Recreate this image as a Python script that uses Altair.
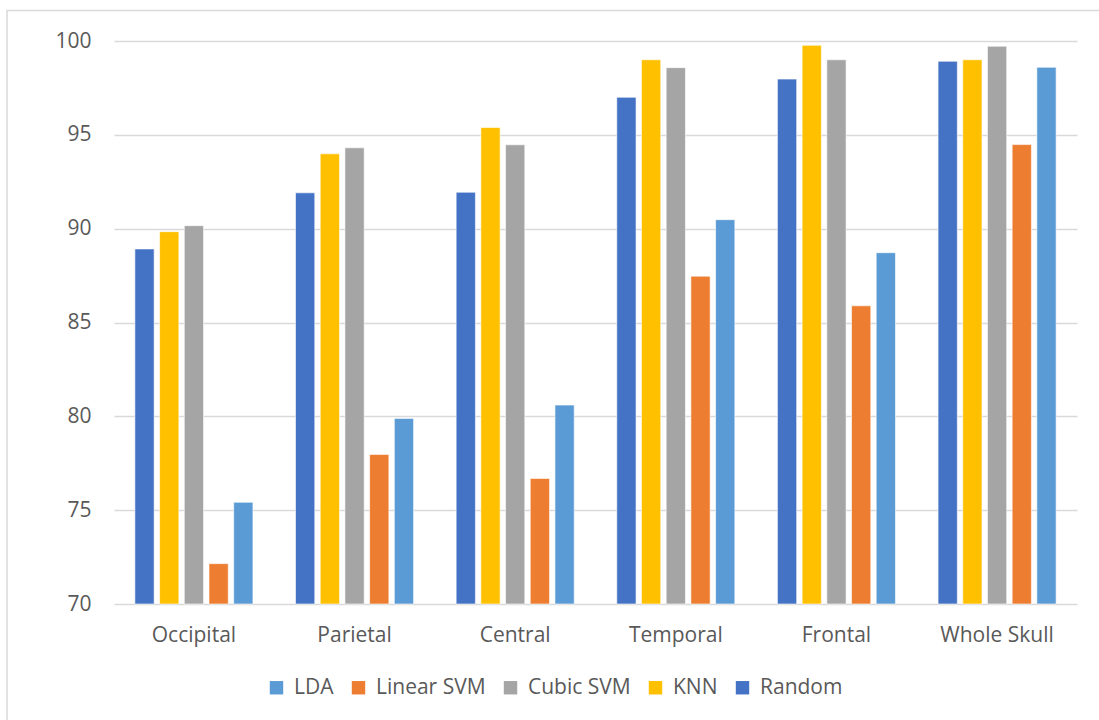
import altair as alt
import pandas as pd

regions = ["Occipital", "Parietal", "Central", "Temporal", "Frontal", "Whole Skull"]
legend_order = ["LDA", "Linear SVM", "Cubic SVM", "KNN", "Random"]
bar_order = ["Random", "KNN", "Cubic SVM", "Linear SVM", "LDA"]
colors = ["#5B9BD5", "#ED7D31", "#A5A5A5", "#FFC000", "#4472C4"]

random_vals = [88.92, 91.91, 91.94, 97.0, 97.97, 98.92]
knn_vals = [89.84, 93.99, 95.39, 99.0, 99.77, 99.0]
cubic_vals = [90.16, 94.31, 94.47, 98.58, 99.0, 99.72]
linear_vals = [72.15, 77.97, 76.69, 87.47, 85.89, 94.48]
lda_vals = [75.42, 79.89, 80.6, 90.48, 88.72, 98.6]

series = {
    "Random": random_vals,
    "KNN": knn_vals,
    "Cubic SVM": cubic_vals,
    "Linear SVM": linear_vals,
    "LDA": lda_vals,
}
rows = []
for name, vals in series.items():
    for r, v in zip(regions, vals):
        rows.append({"region": r, "model": name, "value": v})
df = pd.DataFrame(rows)

FONT = "Open Sans"
TXT = "#595959"
GRID = "#D9D9D9"
FS = 21

bars = alt.Chart(df).mark_bar(stroke="white", strokeWidth=0.6).encode(
    x=alt.X("region:N", sort=regions, title=None,
            scale=alt.Scale(paddingInner=0.265, paddingOuter=0.13),
            axis=alt.Axis(labelAngle=0, labelFont=FONT, labelFontSize=FS, labelColor=TXT,
                          ticks=False, domain=False, labelPadding=20, grid=False)),
    xOffset=alt.XOffset("model:N", sort=bar_order, scale=alt.Scale(paddingInner=0.22, paddingOuter=0)),
    y=alt.Y("value:Q", title=None,
            scale=alt.Scale(domain=[70, 100], zero=False, nice=False),
            axis=alt.Axis(values=[70, 75, 80, 85, 90, 95, 100], labelFont=FONT, labelFontSize=FS,
                          labelColor=TXT, ticks=False, domain=False, labelPadding=23,
                          gridColor=GRID, gridWidth=1.6)),
    y2=alt.datum(70),
    color=alt.Color("model:N", scale=alt.Scale(domain=legend_order, range=colors),
                    legend=alt.Legend(title=None, orient="none", direction="horizontal",
                                      legendX=152, legendY=636,
                                      symbolType="square", symbolSize=180, symbolStrokeWidth=0,
                                      symbolOpacity=1,
                                      labelFont=FONT, labelFontSize=FS, labelColor=TXT,
                                      labelOffset=7, columnPadding=14)),
)

border = alt.Chart(pd.DataFrame({"a": [0]})).mark_rect(
    fill=None, stroke=GRID, strokeWidth=1.5
).encode(
    x=alt.value(-107), x2=alt.value(1100), y=alt.value(-30.5), y2=alt.value(720)
)

chart = alt.layer(border, bars).properties(
    width=963, height=563,
    autosize=alt.AutoSizeParams(type="none"),
    padding={"left": 114, "top": 41, "right": 22, "bottom": 116},
    background="white",
).configure_view(stroke=None)

chart.save("out.html", embed_options={"renderer": "svg", "actions": False})
